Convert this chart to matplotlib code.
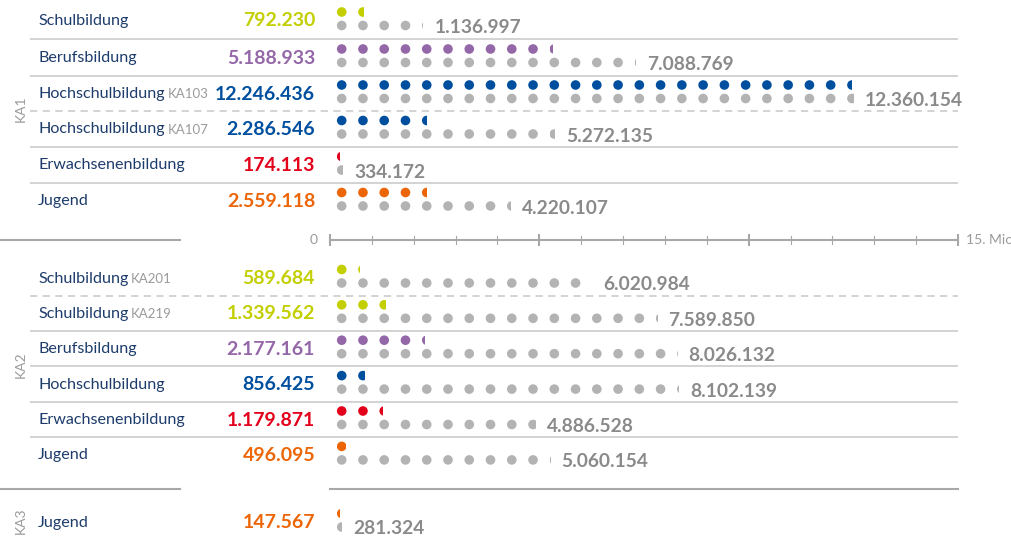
import matplotlib
matplotlib.use("Agg")
import matplotlib.pyplot as plt
from matplotlib.patches import Ellipse, Rectangle
import math

plt.rcParams['font.family'] = ['Lato', 'DejaVu Sans']

# Data
sections = ['KA1', 'KA2', 'KA3']
names = ['Schulbildung', 'Berufsbildung', 'Hochschulbildung', 'Hochschulbildung',
         'Erwachsenenbildung', 'Jugend',
         'Schulbildung', 'Schulbildung', 'Berufsbildung', 'Hochschulbildung',
         'Erwachsenenbildung', 'Jugend',
         'Jugend']
suffixes = ['', '', 'KA103', 'KA107', '', '',
            'KA201', 'KA219', '', '', '', '',
            '']
row_section = ['KA1'] * 6 + ['KA2'] * 6 + ['KA3']
values = [792230, 5188933, 12246436, 2286546, 174113, 2559118,
          589684, 1339562, 2177161, 856425, 1179871, 496095,
          147567]
totals = [1136997, 7088769, 12360154, 5272135, 334172, 4220107,
          6020984, 7589850, 8026132, 8102139, 4886528, 5060154,
          281324]
# dot counts as drawn in the picture (a few differ from the printed numbers)
value_dots = [792230, 5188933, 12246436, 2286546, 174113, 2250000,
              589684, 1339562, 2177161, 856425, 1179871, 496095,
              147567]
total_dots = [2070000, 7088769, 12360154, 5272135, 334172, 4220107,
              6020984, 7589850, 8026132, 8102139, 4886528, 5060154,
              281324]

colors = ['#c3cf00', '#9467a8', '#004f9f', '#004f9f', '#e3001b', '#ec6608',
          '#c3cf00', '#c3cf00', '#9467a8', '#004f9f', '#e3001b', '#ec6608',
          '#ec6608']
GREY_DOT = '#b3b3b3'
GREY_TXT = '#8a8a8a'
NAVY = '#1d3c6b'
LINE = '#d0d0d0'

axis_ticks = list(range(0, 16))
DOT_UNIT = 500000

# layout in pixels
W, H = 1012, 537
X0 = 330                 # pixel of value 0
S = 628 / 15.0           # pixels per million
STEP = 21.26             # dot spacing px
DIAM = 9.6               # dot diameter px
FIRST_LEFT = 336.9       # left edge of first dot px
TXT_DY = 2               # text baseline nudge

row_y = [19, 56, 92, 127.5, 163.5, 199.5,
         276.5, 311.8, 347.2, 382.6, 418, 453.4,
         520.5]
section_y = {'KA1': 109, 'KA2': 365, 'KA3': 521}


def px(p):
    return (p - X0) / S


fig = plt.figure(figsize=(W / 100, H / 100), dpi=100)
ax = fig.add_axes([0, 0, 1, 1])
ax.set_xlim(px(0), px(W))
ax.set_ylim(H, 0)
ax.axis('off')


def dot_row(value, y, color):
    n = value / DOT_UNIT
    full = int(math.floor(n))
    frac = n - full
    for i in range(full):
        cx = px(FIRST_LEFT + i * STEP + DIAM / 2)
        ax.add_patch(Ellipse((cx, y), DIAM / S, DIAM, color=color, lw=0))
    end = FIRST_LEFT + (full - 1) * STEP + DIAM if full else FIRST_LEFT
    if frac > 0.01:
        left = FIRST_LEFT + full * STEP
        cx = px(left + DIAM / 2)
        e = Ellipse((cx, y), DIAM / S, DIAM, color=color, lw=0)
        ax.add_patch(e)
        clip = Rectangle((px(left), y - DIAM), frac * DIAM / S, 2 * DIAM,
                         transform=ax.transData)
        e.set_clip_path(clip)
        end = left + frac * DIAM
    return end


def fmt(v):
    return f"{v:,}".replace(',', '.')


for i in range(len(names)):
    y = row_y[i]
    t = ax.text(px(38), y + TXT_DY, names[i], color=NAVY, fontsize=11.6,
                ha='left', va='center')
    if suffixes[i]:
        ax.annotate(suffixes[i], xy=(1, 0), xycoords=t, xytext=(2, 0.5),
                    textcoords='offset points', color='#9a9a9a', fontsize=9.5,
                    ha='left', va='bottom')
    ax.text(px(315), y + TXT_DY, fmt(values[i]), color=colors[i], fontsize=14,
            fontweight='bold', ha='right', va='center')
    dot_row(value_dots[i], y - 7, colors[i])
    end = dot_row(total_dots[i], y + 6.5, GREY_DOT)
    ax.text(px(end + 11), y + 6.5 + TXT_DY, fmt(totals[i]), color=GREY_TXT,
            fontsize=13.8, fontweight='bold', ha='left', va='center')

# separators between rows of the same section
for i in range(len(names) - 1):
    if row_section[i] != row_section[i + 1]:
        continue
    ys = (row_y[i] + row_y[i + 1]) / 2 + 1.5
    same = names[i] == names[i + 1]
    ax.plot([px(30), px(958)], [ys, ys], color=LINE, lw=1.3,
            ls=(0, (4, 3)) if same else '-', solid_capstyle='butt')

# section labels
for s in sections:
    ax.text(px(21), section_y[s], s, color='#9a9a9a', fontsize=10,
            rotation=90, ha='center', va='center')

# scale axis between KA1 and KA2
ay = 239.5
ax.plot([px(0), px(180)], [ay, ay], color='#a8a8a8', lw=1.5)
ax.plot([0, 15], [ay, ay], color='#a8a8a8', lw=1.5)
for tk in axis_ticks:
    big = tk % 5 == 0
    h = 5 if big else 4
    ax.plot([tk, tk], [ay - h, ay + h], color='#a8a8a8', lw=1.5 if big else 0.8)
ax.text(px(318), ay, '0', color='#9a9a9a', fontsize=10, ha='right', va='center')
ax.text(15 + px(966) - px(958), ay, '15. Mio', color='#9a9a9a', fontsize=10,
        ha='left', va='center')

# divider between KA2 and KA3
by = 489
ax.plot([px(0), px(180)], [by, by], color='#a8a8a8', lw=1.5)
ax.plot([0, 15], [by, by], color='#a8a8a8', lw=1.5)

fig.savefig('out.png', dpi=100)
